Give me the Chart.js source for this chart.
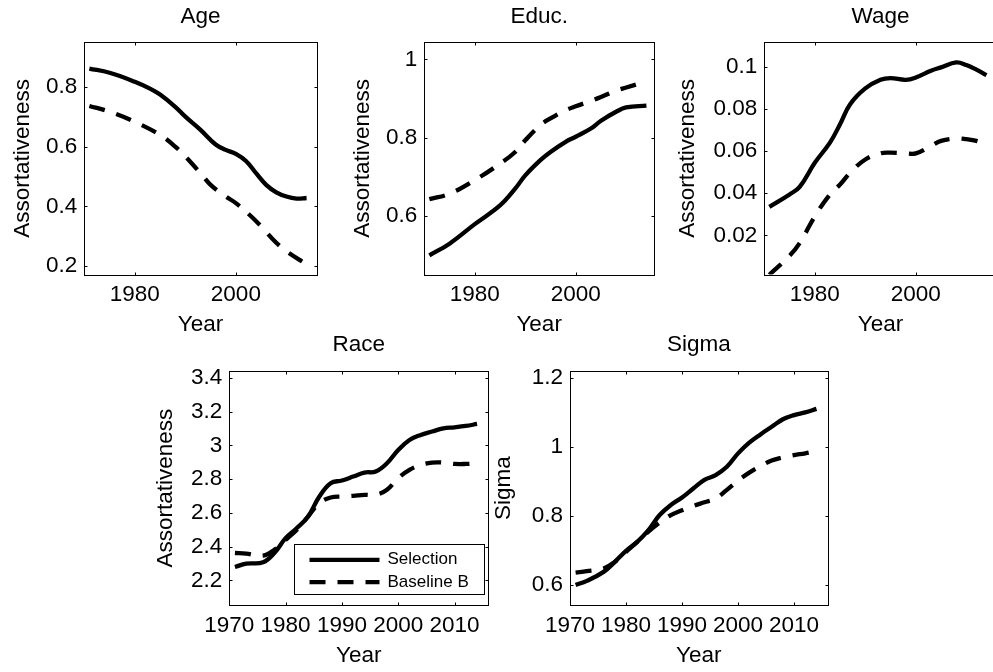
<!DOCTYPE html>
<html><head><meta charset="utf-8">
<script src="https://cdn.jsdelivr.net/npm/chart.js@4.4.1/dist/chart.umd.min.js"></script>
<style>
html,body{margin:0;padding:0;background:#fff;overflow:hidden;width:993px;height:672px;position:relative}
canvas{position:absolute;left:0;top:0}
</style></head><body>
<canvas id="cAge" width="1000" height="672"></canvas>
<canvas id="cEduc" width="1000" height="672"></canvas>
<canvas id="cWage" width="1000" height="672"></canvas>
<canvas id="cRace" width="1000" height="672"></canvas>
<canvas id="cSigma" width="1000" height="672"></canvas>
<script>
// ---------------- DATA ----------------
const seriesNames = ['Selection', 'Baseline B'];
const titles = ['Age', 'Educ.', 'Wage', 'Race', 'Sigma'];
const xTitle = 'Year';
const yTitles = ['Assortativeness', 'Assortativeness', 'Assortativeness', 'Assortativeness', 'Sigma'];

const ageYears     = [1971, 1975, 1980, 1983, 1985, 1988, 1990, 1993, 1996, 1998, 2000, 2002, 2004, 2006, 2008, 2010, 2012, 2014];
const ageSelection = [0.861, 0.847, 0.817, 0.794, 0.774, 0.733, 0.700, 0.656, 0.607, 0.589, 0.576, 0.552, 0.511, 0.472, 0.447, 0.433, 0.426, 0.428];
const ageYearsB    = [1971, 1975, 1980, 1985, 1988, 1990, 1993, 1995, 1998, 2000, 2003, 2005, 2008, 2010, 2014];
const ageBaseline  = [0.736, 0.717, 0.683, 0.639, 0.600, 0.567, 0.511, 0.472, 0.433, 0.411, 0.367, 0.333, 0.278, 0.250, 0.206];

const educYears     = [1971, 1975, 1980, 1985, 1988, 1990, 1993, 1995, 1998, 2000, 2003, 2005, 2008, 2010, 2014];
const educSelection = [0.498, 0.528, 0.578, 0.626, 0.669, 0.703, 0.742, 0.763, 0.789, 0.802, 0.823, 0.843, 0.866, 0.877, 0.882];
const educBaseline  = [0.642, 0.656, 0.691, 0.733, 0.763, 0.793, 0.832, 0.849, 0.870, 0.880, 0.894, 0.904, 0.920, 0.928, 0.944];

const wageYears     = [1971, 1975, 1977, 1980, 1983, 1985, 1987, 1990, 1993, 1995, 1998, 2000, 2003, 2005, 2008, 2010, 2012, 2014];
const wageSelection = [0.0335, 0.0394, 0.0430, 0.0544, 0.0640, 0.0727, 0.0822, 0.0897, 0.0938, 0.0946, 0.0938, 0.0949, 0.0981, 0.0997, 0.1021, 0.1008, 0.0986, 0.0960];
const wageBaseline  = [0.0013, 0.0103, 0.0163, 0.0290, 0.0394, 0.0441, 0.0497, 0.0560, 0.0589, 0.0592, 0.0589, 0.0589, 0.0624, 0.0648, 0.0659, 0.0656, 0.0648, 0.0629];

const raceYears     = [1971, 1973, 1976, 1978, 1980, 1982, 1984, 1986, 1988, 1990, 1992, 1994, 1996, 1998, 2000, 2002, 2004, 2006, 2008, 2010, 2012, 2014];
const raceSelection = [2.279, 2.299, 2.307, 2.362, 2.450, 2.510, 2.579, 2.697, 2.776, 2.792, 2.815, 2.839, 2.845, 2.894, 2.973, 3.032, 3.062, 3.082, 3.101, 3.107, 3.115, 3.127];
const raceBaseline  = [2.362, 2.358, 2.346, 2.381, 2.440, 2.500, 2.579, 2.658, 2.691, 2.697, 2.701, 2.707, 2.707, 2.737, 2.806, 2.855, 2.884, 2.898, 2.898, 2.890, 2.890, 2.894];

const sigmaYears     = [1971, 1973, 1976, 1978, 1980, 1982, 1984, 1986, 1988, 1990, 1992, 1994, 1996, 1998, 2000, 2002, 2004, 2006, 2008, 2010, 2012, 2014];
const sigmaSelection = [0.600, 0.612, 0.638, 0.667, 0.699, 0.725, 0.759, 0.803, 0.832, 0.854, 0.880, 0.905, 0.919, 0.943, 0.982, 1.013, 1.037, 1.059, 1.081, 1.093, 1.101, 1.111];
const sigmaBaseline  = [0.636, 0.640, 0.648, 0.667, 0.696, 0.725, 0.755, 0.781, 0.803, 0.817, 0.829, 0.840, 0.851, 0.876, 0.903, 0.926, 0.945, 0.961, 0.970, 0.977, 0.982, 0.989];

const topXTicks    = [1980, 2000];
const bottomXTicks = [1970, 1980, 1990, 2000, 2010];
const ageYTicks   = [0.2, 0.4, 0.6, 0.8];
const educYTicks  = [0.6, 0.8, 1];
const wageYTicks  = [0.02, 0.04, 0.06, 0.08, 0.1];
const raceYTicks  = [2.2, 2.4, 2.6, 2.8, 3, 3.2, 3.4];
const sigmaYTicks = [0.6, 0.8, 1, 1.2];

// axis ranges
const ageRange   = [0.172, 0.949];
const educRange  = [0.449, 1.044];
const wageRange  = [0.0014, 0.1116];
const raceRange  = [2.052, 3.441];
const sigmaRange = [0.541, 1.221];

// ---------------- STYLE / LAYOUT ----------------
const FONT_FAMILY = '"Liberation Sans", Arial, Helvetica, sans-serif';
const FS = 22.5;
const LH = FS * 1.2;
const CW = 1000, CH = 672;
const HX = 63.5;

const matlabAxes = {
  id: 'matlabAxes',
  afterDraw(chart, args, opts) {
    const {ctx, chartArea: ca, scales: {x, y}} = chart;
    ctx.save();
    ctx.strokeStyle = '#000';
    ctx.lineWidth = 1;
    const L = Math.round(ca.left) + 0.5, R = Math.round(ca.right) + 0.5;
    const T = Math.round(ca.top) + 0.5, B = Math.round(ca.bottom) + 0.5;
    ctx.beginPath();
    x.ticks.forEach(t => {
      const px = Math.round(x.getPixelForValue(t.value)) + 0.5;
      ctx.moveTo(px, B); ctx.lineTo(px, B - 3);
      ctx.moveTo(px, T); ctx.lineTo(px, T + 3);
    });
    y.ticks.forEach(t => {
      const py = Math.round(y.getPixelForValue(t.value)) + 0.5;
      ctx.moveTo(L, py); ctx.lineTo(L + 3, py);
      ctx.moveTo(R, py); ctx.lineTo(R - 3, py);
    });
    ctx.stroke();
    ctx.strokeRect(L, T, R - L, B - T);
    // subplot title
    ctx.fillStyle = '#000';
    ctx.font = FS + 'px ' + FONT_FAMILY;
    ctx.textAlign = 'center';
    ctx.textBaseline = 'middle';
    ctx.fillText(opts.title, (ca.left + ca.right) / 2, ca.top - 26);
    // legend
    if (opts.legend) {
      const w = 190, h = 50;
      const lx = Math.round(ca.right - 4 - w) + 0.5, ly = Math.round(ca.bottom - 11 - h) + 0.5;
      ctx.fillStyle = '#fff';
      ctx.fillRect(lx, ly, w, h);
      ctx.strokeStyle = '#000';
      ctx.lineWidth = 1;
      ctx.strokeRect(lx, ly, w, h);
      const rows = [15.3, 37.7];
      chart.data.datasets.forEach((ds, i) => {
        const yy = ly + rows[i];
        ctx.beginPath();
        ctx.lineWidth = ds.borderWidth;
        ctx.lineCap = 'butt';
        ctx.setLineDash(ds.borderDash || []);
        ctx.moveTo(lx + 15, yy); ctx.lineTo(lx + 85, yy);
        ctx.stroke();
        ctx.setLineDash([]);
        ctx.fillStyle = '#000';
        ctx.font = '17px ' + FONT_FAMILY;
        ctx.textAlign = 'left';
        ctx.textBaseline = 'middle';
        ctx.fillText(ds.label, lx + 93, yy);
      });
    }
    ctx.restore();
  }
};

function fmt(v) { return String(parseFloat(Number(v).toFixed(4))); }

function makePanel(id, p) {
  const font = {family: FONT_FAMILY, size: FS};
  const wy = p.d + LH / 2;
  const mk = (yrs, vals) => yrs.map((yr, i) => ({x: yr, y: vals[i]}));
  new Chart(document.getElementById(id), {
    type: 'line',
    data: {
      datasets: [
        {label: seriesNames[0], data: mk(p.years, p.sel), borderColor: '#000', borderWidth: 4.3,
         pointRadius: 0, tension: 0.4, fill: false, clip: 0},
        {label: seriesNames[1], data: mk(p.yearsB || p.years, p.base), borderColor: '#000', borderWidth: 4.3,
         borderDash: [16, 12], pointRadius: 0, tension: 0.4, fill: false, clip: 0}
      ]
    },
    options: {
      responsive: false, animation: false, devicePixelRatio: 1,
      events: [],
      layout: {padding: {left: p.box[0] - wy, right: CW - p.box[1], top: p.box[2], bottom: CH - p.box[3] - HX}},
      plugins: {legend: {display: false}, tooltip: {enabled: false},
                matlabAxes: {title: p.title, legend: !!p.legend}},
      scales: {
        x: {
          type: 'linear', min: p.xr[0], max: p.xr[1],
          afterBuildTicks: s => { s.ticks = p.xt.map(v => ({value: v})); },
          afterFit: s => { s.height = HX; },
          grid: {display: false, drawTicks: false}, border: {display: false},
          ticks: {font, color: '#000', padding: 7, maxRotation: 0, minRotation: 0, autoSkip: false,
                  callback: v => String(v)},
          title: {display: true, text: xTitle, font, color: '#000', padding: 0}
        },
        y: {
          type: 'linear', min: p.yr[0], max: p.yr[1],
          afterBuildTicks: s => { s.ticks = p.yt.map(v => ({value: v})); },
          afterFit: s => { s.width = wy; },
          grid: {display: false, drawTicks: false}, border: {display: false},
          ticks: {font, color: '#000', padding: 7, autoSkip: false, callback: v => fmt(v)},
          title: {display: true, text: p.ytitle, font, color: '#000', padding: 0}
        }
      }
    },
    plugins: [matlabAxes]
  });
}

makePanel('cAge',   {title: titles[0], ytitle: yTitles[0], years: ageYears, yearsB: ageYearsB, sel: ageSelection, base: ageBaseline,
  xr: [1970, 2016], yr: ageRange, xt: topXTicks, yt: ageYTicks, box: [84.3, 316.7, 42.3, 274.5], d: 61.8});
makePanel('cEduc',  {title: titles[1], ytitle: yTitles[1], years: educYears, sel: educSelection, base: educBaseline,
  xr: [1970, 2015.5], yr: educRange, xt: topXTicks, yt: educYTicks, box: [424.3, 654, 42.3, 274.5], d: 61.8});
makePanel('cWage',  {title: titles[2], ytitle: yTitles[2], years: wageYears, sel: wageSelection, base: wageBaseline,
  xr: [1970, 2016], yr: wageRange, xt: topXTicks, yt: wageYTicks, box: [764.3, 996.6, 42.3, 274.5], d: 76.8});
makePanel('cRace',  {title: titles[3], ytitle: yTitles[3], years: raceYears, sel: raceSelection, base: raceBaseline,
  xr: [1970, 2016], yr: raceRange, xt: bottomXTicks, yt: raceYTicks, box: [229.3, 488.3, 371, 605.3], d: 63.5, legend: true});
makePanel('cSigma', {title: titles[4], ytitle: yTitles[4], years: sigmaYears, sel: sigmaSelection, base: sigmaBaseline,
  xr: [1970, 2016], yr: sigmaRange, xt: bottomXTicks, yt: sigmaYTicks, box: [570, 827.7, 371, 605.3], d: 66});
</script>
</body></html>
